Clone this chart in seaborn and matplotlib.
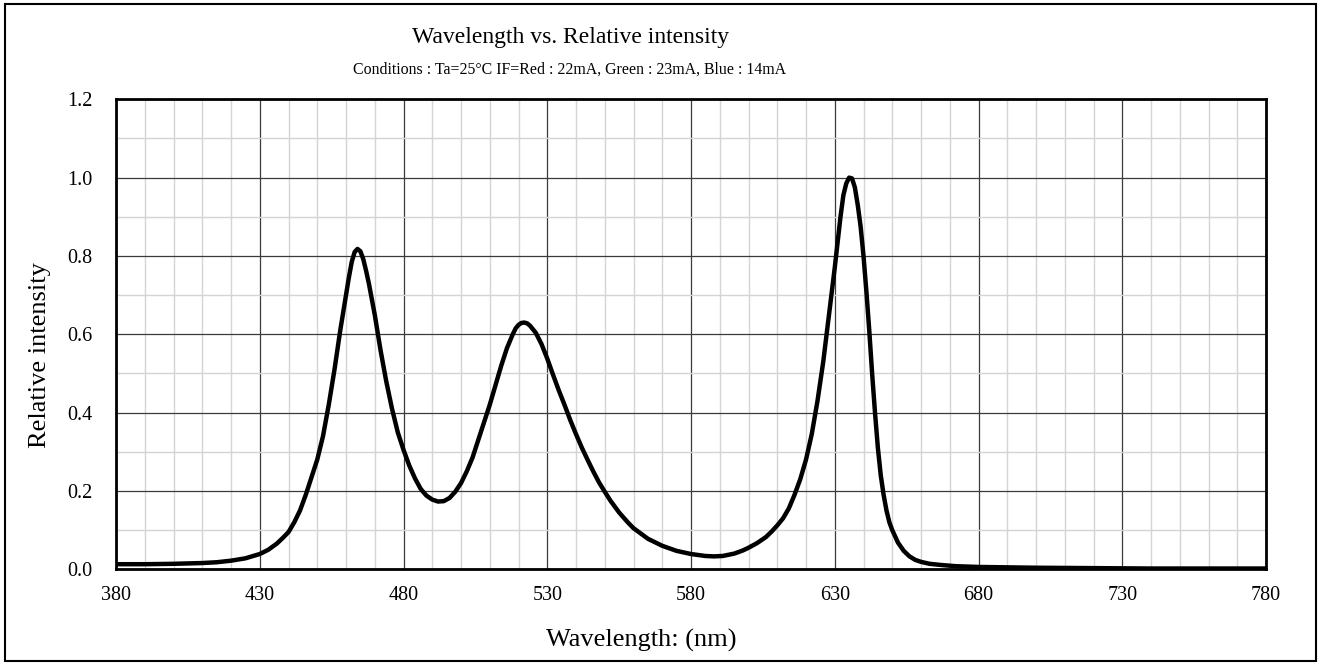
import numpy as np
import pandas as pd
import matplotlib
matplotlib.use("Agg")
import matplotlib.pyplot as plt
from matplotlib.ticker import MultipleLocator
from matplotlib.patches import Rectangle
import seaborn as sns

# ---- data ----
wavelength_nm = [380, 390, 400, 410, 415, 420, 425, 430, 433, 436, 438, 440, 442, 444, 446, 448,
                 450, 452, 454, 456, 458, 460, 461, 462, 463, 464, 465, 466, 467, 468, 470, 472,
                 474, 476, 478, 480, 482, 484, 486, 488, 490, 492, 494, 496, 498, 500, 502, 504,
                 506, 508, 510, 512, 514, 516, 518, 519, 520, 521, 522, 523, 524, 526, 528, 530,
                 532, 534, 536, 538, 540, 542, 544, 546, 548, 550, 552, 555, 558, 560, 565, 570,
                 575, 580, 585, 588, 591, 595, 598, 600, 603, 606, 608, 610, 612, 614, 616, 618,
                 620, 622, 624, 626, 628, 630, 632, 633, 634, 635, 636, 637, 638, 639, 640, 641,
                 642, 643, 644, 645, 646, 647, 648, 649, 650, 652, 654, 656, 658, 660, 663, 667,
                 672, 680, 690, 700, 720, 740, 760, 780]
relative_intensity = [0.013, 0.013, 0.014, 0.016, 0.018, 0.022, 0.028, 0.039, 0.050, 0.066, 0.080,
                      0.095, 0.120, 0.150, 0.190, 0.235, 0.280, 0.340, 0.420, 0.510, 0.610, 0.700,
                      0.745, 0.785, 0.810, 0.818, 0.812, 0.792, 0.762, 0.728, 0.650, 0.560, 0.480,
                      0.410, 0.350, 0.305, 0.265, 0.232, 0.205, 0.188, 0.178, 0.173, 0.174, 0.182,
                      0.198, 0.220, 0.250, 0.285, 0.330, 0.375, 0.420, 0.470, 0.520, 0.565, 0.600,
                      0.615, 0.624, 0.629, 0.630, 0.628, 0.622, 0.604, 0.575, 0.538, 0.497, 0.457,
                      0.420, 0.381, 0.345, 0.311, 0.280, 0.250, 0.222, 0.198, 0.175, 0.145, 0.120,
                      0.105, 0.078, 0.060, 0.047, 0.039, 0.034, 0.033, 0.034, 0.040, 0.048, 0.055,
                      0.067, 0.082, 0.096, 0.112, 0.130, 0.155, 0.190, 0.230, 0.280, 0.345, 0.430,
                      0.530, 0.650, 0.770, 0.900, 0.955, 0.985, 1.000, 0.998, 0.975, 0.930, 0.875,
                      0.800, 0.710, 0.610, 0.500, 0.400, 0.310, 0.240, 0.190, 0.150, 0.120, 0.100,
                      0.068, 0.047, 0.033, 0.024, 0.019, 0.014, 0.011, 0.008, 0.006, 0.005, 0.004,
                      0.003, 0.002, 0.002, 0.002]
x_ticks = [380, 430, 480, 530, 580, 630, 680, 730, 780]
y_ticks = [0.0, 0.2, 0.4, 0.6, 0.8, 1.0, 1.2]
y_tick_labels = ["0.0", "0.2", "0.4", "0.6", "0.8", "1.0", "1.2"]

title = "Wavelength vs. Relative intensity"
subtitle = "Conditions : Ta=25°C IF=Red : 22mA, Green : 23mA, Blue : 14mA"
x_label = "Wavelength: (nm)"
y_label = "Relative intensity"

df = pd.DataFrame({"wl": wavelength_nm, "ri": relative_intensity})

sns.set_style("white")
plt.rcParams["font.family"] = ["Liberation Serif", "DejaVu Serif"]
plt.rcParams["text.color"] = "black"
plt.rcParams["xtick.color"] = "black"
plt.rcParams["ytick.color"] = "black"

W, H = 1321, 664
fig = plt.figure(figsize=(W / 100, H / 100), dpi=100)
ax = fig.add_axes([116 / W, 1 - 569.3 / H, (1266 - 116) / W, (569.3 - 99.3) / H])

sns.lineplot(data=df, x="wl", y="ri", ax=ax, color="black", linewidth=3.2,
             estimator=None, sort=False, zorder=5,
             solid_joinstyle="round", solid_capstyle="round")

ax.set_xlim(380, 780)
ax.set_ylim(0, 1.2)
ax.set_xticks(x_ticks)
ax.set_xticklabels([str(t) for t in x_ticks])
ax.set_yticks(y_ticks)
ax.set_yticklabels(y_tick_labels)
ax.xaxis.set_minor_locator(MultipleLocator(10))
ax.yaxis.set_minor_locator(MultipleLocator(0.1))
ax.grid(which="minor", color="#d4d4d4", linewidth=1.0, zorder=0)
ax.grid(which="major", color="#3a3a3a", linewidth=0.9, zorder=1)
ax.set_axisbelow(True)
ax.tick_params(which="both", length=0)
ax.tick_params(axis="x", pad=12, labelsize=14.5, labelcolor="black")
ax.tick_params(axis="y", pad=17, labelsize=14.5, labelcolor="black")
ax.set_xlabel("")
ax.set_ylabel("")
for s in ax.spines.values():
    s.set_visible(True)
    s.set_color("black")
    s.set_linewidth(2.0)

fig.text(571 / W, 1 - 37 / H, title, ha="center", va="center", fontsize=17, color="black")
fig.text(570 / W, 1 - 70 / H, subtitle, ha="center", va="center", fontsize=11.4, color="black")
fig.text(641.5 / W, 1 - 640 / H, x_label, ha="center", va="center", fontsize=19, color="black")
fig.text(40 / W, 1 - 355 / H, y_label, ha="center", va="center", rotation=90, fontsize=19,
         color="black")

fig.patches.append(Rectangle((5 / W, 3 / H), (1316 - 5) / W, (660 - 3) / H,
                             transform=fig.transFigure, fill=False, edgecolor="black",
                             linewidth=1.5))

fig.savefig("out.png", dpi=100)
